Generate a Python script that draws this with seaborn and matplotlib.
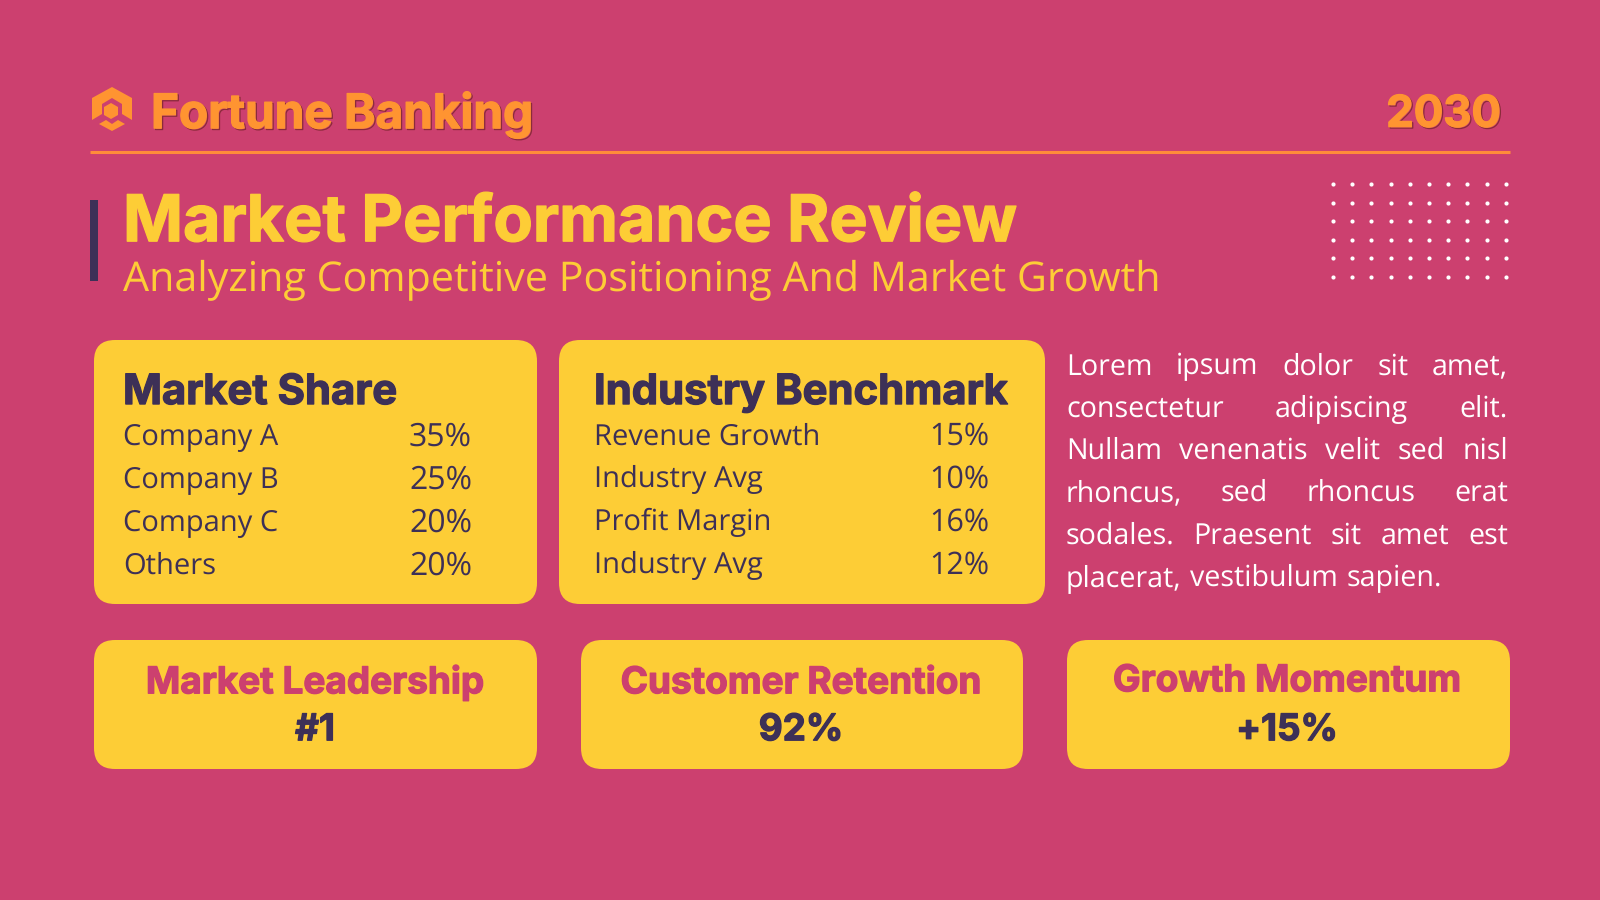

# Imports:
import numpy as np, pandas as pd
import matplotlib
matplotlib.use('Agg')
import matplotlib.pyplot as plt
import matplotlib.patheffects as pe
from matplotlib.patches import FancyBboxPatch, Polygon, Rectangle
import seaborn as sns

### The values of the slide:
brandName = 'Fortune Banking'
yearLabel = '2030'
titleText = 'Market Performance Review'
subtitleText = 'Analyzing Competitive Positioning And Market Growth'

shareTitle = 'Market Share'
shareLabels = ['Company A', 'Company B', 'Company C', 'Others']
shareValues = [35, 25, 20, 20]

benchTitle = 'Industry Benchmark'
benchLabels = ['Revenue Growth', 'Industry Avg', 'Profit Margin', 'Industry Avg']
benchValues = [15, 10, 16, 12]

kpiTitles = ['Market Leadership', 'Customer Retention', 'Growth Momentum']
kpiValues = ['#1', '92%', '+15%']

bodyLines = ['Lorem ipsum dolor sit amet,',
             'consectetur adipiscing elit.',
             'Nullam venenatis velit sed nisl',
             'rhoncus, sed rhoncus erat',
             'sodales. Praesent sit amet est',
             'placerat, vestibulum sapien.']

### Colours:
PINK = '#CC406F'
YELLOW = '#FDCD36'
ORANGE = '#FF9431'
RULE = '#FF8C3A'
NAVY = '#3D3057'
SHADOW = '#8A2B3A'

HEAD_FONT = 'Inter'
BODY_FONT = 'Open Sans'

plt.rcParams['text.hinting'] = 'none'
sns.set_theme(style='white')

# Whole figure is one axes in pixel coordinates:
fig = plt.figure(figsize=(16, 9), dpi=100, facecolor=PINK)
ax = fig.add_axes([0, 0, 1, 1])
ax.set_xlim(0, 1600)
ax.set_ylim(900, 0)
ax.axis('off')


def addCard(x0, y0, x1, y1):
    # Rounded yellow box:
    ax.add_patch(FancyBboxPatch((x0 + 21, y0 + 21), x1 - x0 - 42, y1 - y0 - 42,
                                boxstyle='round,pad=21,rounding_size=21',
                                facecolor=YELLOW, edgecolor='none'))


def addText(x, y, s, size, color, family=BODY_FONT, weight='normal', ha='left', **kwargs):
    # y is the middle of the capitals, the baseline keeps the words of a line level:
    return ax.text(x, y + 0.36 * size * 100 / 72, s, fontsize=size, color=color, family=family,
                   weight=weight, ha=ha, va='baseline', **kwargs)


def addHeavy(x, y, s, size, color, ha='left', shadow=False):
    # Inter Bold is lighter than the heading face, so a thin stroke thickens it:
    effects = [pe.withStroke(linewidth=0.9, foreground=color)]
    if shadow:
        effects = [pe.SimpleLineShadow(offset=(1.0, -1.0), shadow_color=SHADOW, alpha=1.0, linewidth=0.9),
                   pe.Stroke(linewidth=0.9, foreground=color), pe.Normal()]
    return addText(x, y, s, size, color, HEAD_FONT, 'bold', ha=ha, path_effects=effects)


def addJustified(line, y, x0, x1, size, color, justify=True):
    # Matplotlib has no justify, so the gaps are worked out from the measured words:
    renderer = fig.canvas.get_renderer()
    words = line.split(' ')
    widths = []
    for eachWord in words:
        t = addText(0, y, eachWord, size, color)
        widths.append(t.get_window_extent(renderer).width)
        t.remove()
    gap = (x1 - x0 - sum(widths)) / (len(words) - 1) if justify else size * 0.42
    x = x0
    for eachWord, eachWidth in zip(words, widths):
        addText(x, y, eachWord, size, color)
        x += eachWidth + gap


# Header:
addHeavy(151, 111, brandName, 34.3, ORANGE, shadow=True)
addHeavy(1501, 111, yearLabel, 31.5, ORANGE, ha='right', shadow=True)
ax.plot([90, 1510], [152, 152], color=RULE, linewidth=2.2, solid_capstyle='butt')

# Logo:
ax.add_patch(Polygon([(112, 87), (132, 98), (132, 120), (122, 114), (122, 104), (112, 98),
                      (102, 104), (102, 114), (92, 120), (92, 98)], closed=True, facecolor=ORANGE, edgecolor='none'))
ax.add_patch(Polygon([(111, 103), (118, 107), (118, 115), (111, 119), (104, 115), (104, 107)],
                     closed=True, facecolor=ORANGE, edgecolor='none'))
ax.add_patch(Polygon([(99, 124), (106, 120), (112, 124), (118, 120), (125, 124), (112, 131)],
                     closed=True, facecolor=ORANGE, edgecolor='none'))

# Title block:
ax.add_patch(Rectangle((90, 200), 8, 81, facecolor=NAVY, edgecolor='none'))
addHeavy(123, 218, titleText, 46.4, YELLOW)
addText(123, 276, subtitleText, 29.7, YELLOW, BODY_FONT)

# Dots in the corner:
dotX, dotY = np.meshgrid(1333 + 19.2 * np.arange(10), 184 + 18.5 * np.arange(6))
dotsFrame = pd.DataFrame({'x': dotX.ravel(), 'y': dotY.ravel()})
sns.scatterplot(data=dotsFrame, x='x', y='y', color='white', s=9, linewidth=0, ax=ax, legend=False)
ax.set_xlim(0, 1600)
ax.set_ylim(900, 0)
ax.axis('off')

# Cards:
addCard(94, 340, 537, 604)
addCard(559, 340, 1045, 604)
addCard(94, 640, 537, 769)
addCard(581, 640, 1023, 769)
addCard(1067, 640, 1510, 769)

# Tables:
rowY = [434, 477, 520, 563]
addHeavy(123, 389, shareTitle, 30.1, NAVY)
for eachY, eachLabel, eachValue in zip(rowY, shareLabels, shareValues):
    addText(123, eachY, eachLabel, 21, NAVY)
    addText(409, eachY, f'{eachValue}%', 23, NAVY)

addHeavy(594, 389, benchTitle, 30.1, NAVY)
for eachY, eachLabel, eachValue in zip(rowY, benchLabels, benchValues):
    addText(594, eachY, eachLabel, 21, NAVY)
    addText(929, eachY, f'{eachValue}%', 22, NAVY)

# Paragraph:
for i, eachLine in enumerate(bodyLines):
    addJustified(eachLine, 364 + i * 42.3, 1066, 1508, 20.6, 'white', justify=i < len(bodyLines) - 1)

# KPI cards:
kpiCenters = [315, 801, 1287]
kpiTitleY = [680, 680, 678]
for eachX, eachY, eachTitle, eachValue in zip(kpiCenters, kpiTitleY, kpiTitles, kpiValues):
    addHeavy(eachX, eachY, eachTitle, 26.6, PINK, ha='center')
    addHeavy(eachX, 727, eachValue, 26.5, NAVY, ha='center')

plt.savefig('out.png', dpi=100, facecolor=PINK)
